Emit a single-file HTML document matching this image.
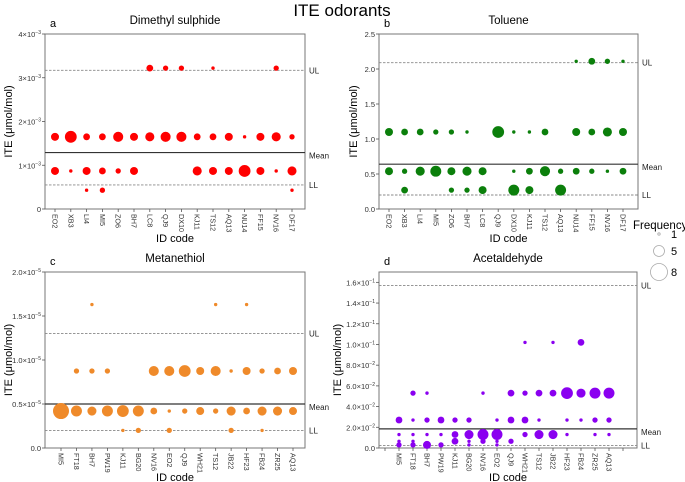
<!DOCTYPE html>
<html><head><meta charset="utf-8"><style>
body{margin:0;background:#fff;}
svg{display:block;font-family:"Liberation Sans",Arial,sans-serif;}
</style></head><body>
<svg id="chart" width="685" height="482" viewBox="0 0 685 482">
<text x="342" y="16" font-size="17" text-anchor="middle">ITE odorants</text>
<g>
<text x="633" y="229" font-size="11.5">Frequency</text>
<circle cx="659" cy="234" r="1.2" fill="none" stroke="#aaa" stroke-width="0.8"/>
<text x="671" y="238" font-size="11">1</text>
<circle cx="659" cy="251" r="5.5" fill="none" stroke="#aaa" stroke-width="0.8"/>
<text x="671" y="255" font-size="11">5</text>
<circle cx="659" cy="272" r="8.5" fill="none" stroke="#aaa" stroke-width="0.8"/>
<text x="671" y="276" font-size="11">8</text>
</g>
</svg>
<script>
// Panel a: Dimethyl sulphide (values in 1e-3)
const catsA = ["EO2","XB3","LI4","MI5","ZO6","BH7","LC8","QJ9","DX10","KJ11","TS12","AQ13","NU14","FF15","NV16","DF17"];
const levelsA = [3.22, 1.65, 0.87, 0.43];
const freqA = [
 [0,0,0,0,0,0,3,2,2,0,1,0,0,0,2,0],
 [4,8,3,3,6,4,5,6,6,3,3,4,1,4,5,2],
 [4,1,4,3,2,4,0,0,0,5,4,4,8,4,1,5],
 [0,0,1,2,0,0,0,0,0,0,0,0,0,0,0,1]];
const refA = [3.17, 1.29, 0.55];
const ticksA = [0,1,2,3,4];
// Panel b: Toluene
const catsB = ["EO2","XB3","LI4","MI5","ZO6","BH7","LC8","QJ9","DX10","KJ11","TS12","AQ13","NU14","FF15","NV16","DF17"];
const levelsB = [2.11, 1.1, 0.54, 0.27];
const freqB = [
 [0,0,0,0,0,0,0,0,0,0,0,0,1,3,2,1],
 [4,3,3,2,2,1,0,8,1,1,3,0,4,3,5,4],
 [4,2,5,7,4,5,4,0,1,3,6,2,3,2,1,3],
 [0,3,0,0,2,2,4,0,7,4,0,7,0,0,0,0]];
const refB = [2.09, 0.64, 0.2];
const ticksB = [0,0.5,1,1.5,2,2.5];
// Panel c: Metanethiol (values in 1e-5)
const catsC = ["MI5","FT18","BH7","PW19","KJ11","BG20","NV16","EO2","QJ9","WH21","TS12","JB22","HF23","FB24","ZR25","AQ13"];
const levelsC = [16.3, 8.75, 4.2, 2.0];
const freqC = [
 [0,0,1,0,0,0,0,0,0,0,1,0,1,0,0,0],
 [0,2,2,2,0,0,6,6,8,4,6,1,4,2,3,4],
 [14,7,5,7,8,7,3,1,2,4,2,5,3,5,5,4],
 [0,0,0,0,1,2,0,2,0,0,0,2,0,1,0,0]];
const refC = [13, 5, 2];
const ticksC = [0,5,10,15,20];
// Panel d: Acetaldehyde (values in 1e-2)
const catsD = ["","MI5","FT18","BH7","PW19","KJ11","BG20","NV16","EO2","QJ9","WH21","TS12","JB22","HF23","FB24","ZR25","AQ13",""];
const levelsD = [10.2, 5.3, 2.7, 1.3, 0.65, 0.3];
const freqD = [
 [0,0,0,0,0,0,0,0,0,0,1,0,1,0,3,0,0,0],
 [0,0,2,1,0,0,0,1,0,3,2,3,3,8,5,7,7,0],
 [0,3,1,2,3,2,2,0,1,3,3,1,0,1,1,2,2,0],
 [0,1,1,1,1,3,5,7,7,0,2,5,5,1,0,1,1,0],
 [0,1,1,0,0,3,1,2,1,2,0,0,0,0,0,0,0,0],
 [0,2,2,4,2,0,1,0,1,0,0,0,0,0,0,0,0,0]];
const refD = [15.7, 1.85, 0.25];
const ticksD = [0,2,4,6,8,10,12,14,16];

const NS="http://www.w3.org/2000/svg";
const svg=document.getElementById('chart');
function mk(tag,attrs,parent){const e=document.createElementNS(NS,tag);for(const k in attrs)e.setAttribute(k,attrs[k]);(parent||svg).appendChild(e);return e;}
function rad(f){return 2.3*Math.sqrt(f)-0.6;}

function panel(p){
 const g=mk('g',{});
 
 
 const ys=v=>p.y1-(v-p.ymin)/(p.ymax-p.ymin)*(p.y1-p.y0);
 const n=p.cats.length;
 const xs=i=>p.cx0+i*(p.cx1-p.cx0)/(n-1);
 const t=mk('text',{x:(p.x0+p.x1)/2,y:p.y0-10,'font-size':11.5,'text-anchor':'middle'},g);t.textContent=p.title;
 
 
 const l=mk('text',{x:p.x0+5,y:p.y0-7,'font-size':11},g);l.textContent=p.id;
 
 
 const box=mk('rect',{x:p.x0,y:p.y0,width:p.x1-p.x0,height:p.y1-p.y0,fill:'none',stroke:'#777','stroke-width':1},g);
 
 
 p.ticks.forEach(v=>{
  const y=ys(v);
  mk('line',{x1:p.x0-3,x2:p.x0,y1:y,y2:y,stroke:'#555','stroke-width':0.8},g);
  const tx=mk('text',{x:p.x0-4,y:y+3,'font-size':7.5,'text-anchor':'end',fill:'#333'},g);
  
  
  if(v===0||!p.exp){tx.textContent=p.fmt(v);}
  else{tx.textContent=p.fmt(v)+'×10';const s=mk('tspan',{dy:-3,'font-size':5},tx);s.textContent=(p.expHi&&v>=10)?p.expHi:p.exp;}
 });
 const yt=mk('text',{transform:`translate(${p.x0-p.ytOff},${(p.y0+p.y1)/2}) rotate(-90)`,'font-size':11,'text-anchor':'middle'},g);
 yt.textContent='ITE (μmol/mol)';
 
 
 const xt=mk('text',{x:(p.x0+p.x1)/2,y:p.y1+33,'font-size':11,'text-anchor':'middle'},g);
 xt.textContent='ID code';
 
 
 p.cats.forEach((c,i)=>{
  const x=xs(i);
  mk('line',{x1:x,x2:x,y1:p.y1,y2:p.y1+3,stroke:'#555','stroke-width':0.8},g);
  if(c){const tl=mk('text',{transform:`translate(${x-2.5},${p.y1+5}) rotate(90)`,'font-size':7.2,fill:'#333'},g);tl.textContent=c;
  
  }
 });
 const names=['UL','Mean','LL'];
 p.ref.forEach((v,k)=>{
  const y=ys(v);
  const ln=mk('line',{x1:p.x0,x2:p.x1,y1:y,y2:y,stroke:k===1?'#333':'#888','stroke-width':k===1?1.2:0.9,'stroke-dasharray':k===1?'':'2.5,1.5'},g);
  
  
  const lt=mk('text',{x:p.x1+4,y:y+(k===1?6:3),'font-size':8,fill:'#222'},g);lt.textContent=names[k];
  
  
 });
 p.levels.forEach((lv,r)=>{
  p.freq[r].forEach((f,i)=>{
   if(!f)return;
   const c=mk('circle',{cx:xs(i),cy:ys(lv),r:rad(f),fill:p.color},g);
   
   
  });
 });
}
panel({id:'a',title:'Dimethyl sulphide',cats:catsA,levels:levelsA,freq:freqA,ref:refA,ticks:ticksA,ymin:0,ymax:4,x0:45,x1:305,y0:34,y1:209,cx0:55,cx1:292,color:'#ff0000',exp:'−3',fmt:v=>String(v),ytOff:33});
panel({id:'b',title:'Toluene',cats:catsB,levels:levelsB,freq:freqB,ref:refB,ticks:ticksB,ymin:0,ymax:2.5,x0:379,x1:638,y0:34,y1:209,cx0:389,cx1:623,color:'#0b7f0b',exp:null,fmt:v=>v.toFixed(1),ytOff:22});
panel({id:'c',title:'Metanethiol',cats:catsC,levels:levelsC,freq:freqC,ref:refC,ticks:ticksC,ymin:0,ymax:20,x0:45,x1:305,y0:272,y1:448,cx0:61,cx1:293,color:'#ef8a2a',exp:'−5',fmt:v=>(v/10).toFixed(1),ytOff:33});
panel({id:'d',title:'Acetaldehyde',cats:catsD,levels:levelsD,freq:freqD,ref:refD,ticks:ticksD,ymin:0,ymax:17,x0:379,x1:637,y0:272,y1:448,cx0:385,cx1:623,color:'#8a00f0',exp:'−2',expHi:'−1',fmt:v=>v===0?'0.0':(v>=10?(v/10).toFixed(1):v.toFixed(1)),ytOff:38});
</script>
</body></html>
